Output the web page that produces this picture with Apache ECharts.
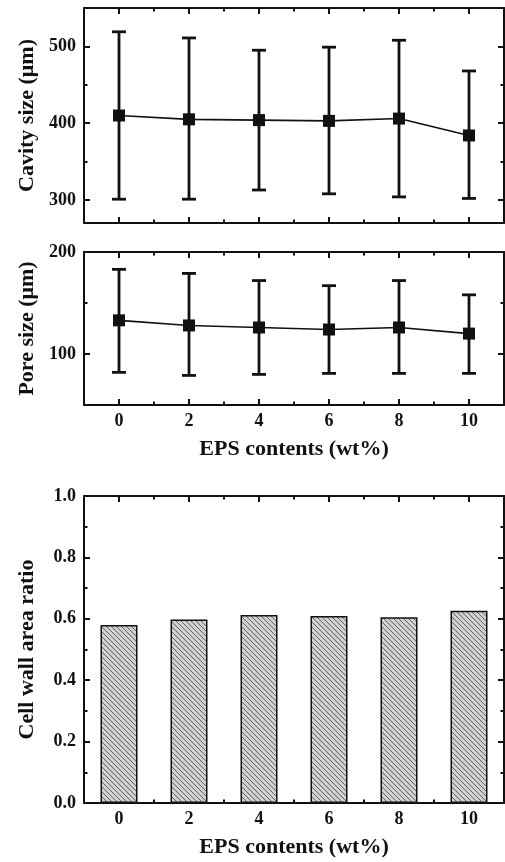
<!DOCTYPE html>
<html>
<head>
<meta charset="utf-8">
<title>EPS contents</title>
<script src="https://cdn.jsdelivr.net/npm/echarts@6/dist/echarts.min.js"></script>
<style>
  html, body { margin: 0; padding: 0; background: #fff; }
  #chart { width: 505px; height: 862px; }
</style>
</head>
<body>
<div id="chart"></div>
<script>
// Data
const epsContents = [0, 2, 4, 6, 8, 10]
const cavityMean = [410, 405, 404, 403, 406, 384]
const cavityHigh = [519, 511, 495, 499, 508, 468]
const cavityLow = [301, 301, 313, 308, 304, 302]
const poreMean = [133, 128, 126, 124, 126, 120]
const poreHigh = [183, 179, 172, 167, 172, 158]
const poreLow = [82, 79, 80, 81, 81, 81]
const wallRatio = [0.58, 0.598, 0.612, 0.609, 0.605, 0.626]

// Tick labels
const xTicks = [0, 2, 4, 6, 8, 10]
const xMinorTicks = [1, 3, 5, 7, 9]
const cavityTicks = [300, 400, 500]
const cavityMinorTicks = [350, 450]
const poreTicks = [100, 200]
const poreMinorTicks = [150]
const ratioTicks = [0, 0.2, 0.4, 0.6, 0.8, 1.0]
const ratioMinorTicks = [0.1, 0.3, 0.5, 0.7, 0.9]

const ink = "#111"
const font = { fontFamily: "Liberation Serif", fontWeight: "bold", color: ink }

// Hatched fill for the bars
const tile = document.createElement("canvas")
tile.width = 5
tile.height = 5
const tctx = tile.getContext("2d")
tctx.fillStyle = "#d0d0d0"
tctx.fillRect(0, 0, 5, 5)
tctx.strokeStyle = "#4a4a4a"
tctx.lineWidth = 0.8
for (let k = -1; k <= 1; k++) {
    tctx.beginPath()
    tctx.moveTo(k * 5, 0)
    tctx.lineTo(k * 5 + 5, 5)
    tctx.stroke()
}

const panels = [
    { top: 8, height: 215, yMin: 270, yMax: 550, yTicks: cavityTicks, yMinor: cavityMinorTicks,
      yName: "Cavity size (μm)", xLabels: false, xName: "", fmt: (v) => String(v) },
    { top: 252, height: 153, yMin: 50, yMax: 200, yTicks: poreTicks, yMinor: poreMinorTicks,
      yName: "Pore size (μm)", xLabels: true, xName: "EPS contents (wt%)", fmt: (v) => String(v) },
    { top: 496, height: 307, yMin: 0, yMax: 1, yTicks: ratioTicks, yMinor: ratioMinorTicks,
      yName: "Cell wall area ratio", xLabels: true, xName: "EPS contents (wt%)", fmt: (v) => v.toFixed(1) },
]

const grids = []
const xAxes = []
const yAxes = []
const mainX = []
const mainY = []

const lineStyle = { color: ink, width: 2 }

panels.forEach((p, g) => {
    grids.push({ left: 84, width: 420, top: p.top, height: p.height })

    // bottom / top x axes, major and minor ticks
    ;["bottom", "top"].forEach((pos) => {
        const isMain = pos === "bottom"
        if (isMain) mainX.push(xAxes.length)
        xAxes.push({
            type: "value", gridIndex: g, position: pos, min: -1, max: 11,
            axisLine: { show: true, onZero: false, lineStyle },
            axisTick: { show: true, inside: true, length: 6, customValues: xTicks, lineStyle },
            axisLabel: { show: isMain && p.xLabels, customValues: xTicks, margin: 7, fontSize: 18, ...font },
            splitLine: { show: false },
            name: isMain ? p.xName : "",
            nameLocation: "middle", nameGap: 33,
            nameTextStyle: { fontSize: 22, ...font },
        })
        xAxes.push({
            type: "value", gridIndex: g, position: pos, min: -1, max: 11,
            axisLine: { show: false, onZero: false },
            axisTick: { show: true, inside: true, length: 3.5, customValues: xMinorTicks, lineStyle },
            axisLabel: { show: false },
            splitLine: { show: false },
        })
    })

    // left / right y axes, major and minor ticks
    ;["left", "right"].forEach((pos) => {
        const isMain = pos === "left"
        if (isMain) mainY.push(yAxes.length)
        yAxes.push({
            type: "value", gridIndex: g, position: pos, min: p.yMin, max: p.yMax,
            axisLine: { show: true, onZero: false, lineStyle },
            axisTick: { show: true, inside: true, length: 6, customValues: p.yTicks, lineStyle },
            axisLabel: { show: isMain, customValues: p.yTicks, margin: 8, fontSize: 18, formatter: p.fmt, ...font },
            splitLine: { show: false },
            name: isMain ? p.yName : "",
            nameLocation: "middle", nameGap: 46,
            nameTextStyle: { fontSize: 22, ...font },
        })
        yAxes.push({
            type: "value", gridIndex: g, position: pos, min: p.yMin, max: p.yMax,
            axisLine: { show: false, onZero: false },
            axisTick: { show: true, inside: true, length: 3.5, customValues: p.yMinor, lineStyle },
            axisLabel: { show: false },
            splitLine: { show: false },
        })
    })
})

function errorBars(g, low, high) {
    return {
        type: "custom",
        xAxisIndex: mainX[g],
        yAxisIndex: mainY[g],
        z: 2,
        data: epsContents.map((x, i) => [x, low[i], high[i]]),
        renderItem: (params, api) => {
            const bot = api.coord([api.value(0), api.value(1)])
            const top = api.coord([api.value(0), api.value(2)])
            const cap = 7
            const style = { stroke: ink, lineWidth: 2.8, fill: null }
            return {
                type: "group",
                children: [
                    { type: "line", shape: { x1: top[0], y1: top[1], x2: bot[0], y2: bot[1] }, style },
                    { type: "line", shape: { x1: top[0] - cap, y1: top[1], x2: top[0] + cap, y2: top[1] }, style },
                    { type: "line", shape: { x1: bot[0] - cap, y1: bot[1], x2: bot[0] + cap, y2: bot[1] }, style },
                ],
            }
        },
    }
}

function meanLine(g, mean) {
    return {
        type: "line",
        xAxisIndex: mainX[g],
        yAxisIndex: mainY[g],
        z: 3,
        data: epsContents.map((x, i) => [x, mean[i]]),
        symbol: "rect",
        symbolSize: 12,
        itemStyle: { color: ink },
        lineStyle: { color: ink, width: 1.6 },
    }
}

const chart = echarts.init(document.getElementById("chart"))

chart.setOption({
    backgroundColor: "#fff",
    animation: false,
    grid: grids,
    xAxis: xAxes,
    yAxis: yAxes,
    series: [
        errorBars(0, cavityLow, cavityHigh),
        meanLine(0, cavityMean),
        errorBars(1, poreLow, poreHigh),
        meanLine(1, poreMean),
        {
            type: "bar",
            xAxisIndex: mainX[2],
            yAxisIndex: mainY[2],
            barWidth: 37,
            data: epsContents.map((x, i) => [x, wallRatio[i]]),
            itemStyle: {
                color: { image: tile, repeat: "repeat" },
                borderColor: ink,
                borderWidth: 1.5,
            },
        },
    ],
})
</script>
</body>
</html>
